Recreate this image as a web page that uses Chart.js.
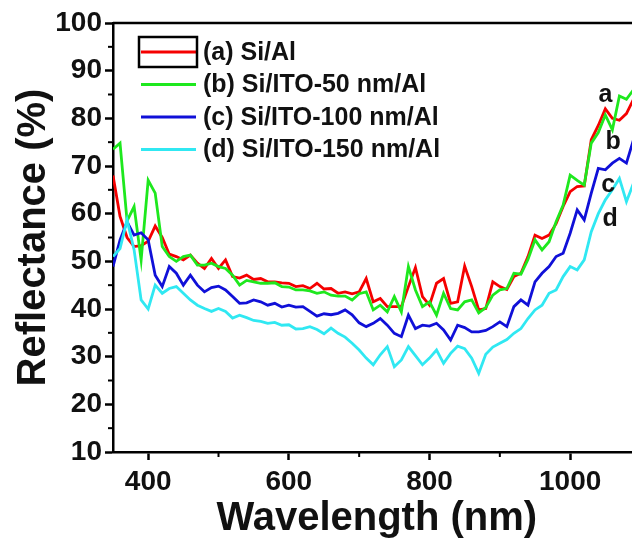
<!DOCTYPE html>
<html>
<head>
<meta charset="utf-8">
<script src="https://cdn.jsdelivr.net/npm/chart.js@4.4.1/dist/chart.umd.min.js"></script>
<style>
  html, body { margin: 0; padding: 0; background: #fff; overflow: hidden; }
  #wrap { width: 660px; height: 547px; }
</style>
</head>
<body>
<div id="wrap"><canvas id="myChart" width="660" height="547"></canvas></div>
<script>
// wavelengths (nm)
var wavelength = [350,360,370,380,390,400,410,420,430,440,450,460,470,480,490,500,510,520,530,540,
  550,560,570,580,590,600,610,620,630,640,650,660,670,680,690,700,710,720,730,740,
  750,760,770,780,790,800,810,820,830,840,850,860,870,880,890,900,910,920,930,940,
  950,960,970,980,990,1000,1010,1020,1030,1040,1050,1060,1070,1080,1090];

// reflectance (%)
var siAl = [68,59.4,55,53.1,53.3,54.2,57.4,55,51.5,51,50.3,51.3,49.6,48.5,50.6,48.5,50.3,46.8,46.5,47.1,
  46.2,46.4,45.7,45.7,45.5,45.4,44.7,44.9,44.3,45.4,44.2,44.3,43.3,43.6,43.2,43.6,46.4,41.5,42.2,40.5,
  40.5,40.5,44.7,48.7,42.6,40.8,45.4,46.4,41.2,41.5,49,44.7,39.8,40.1,45.7,44.7,44.1,46.8,47.5,51,
  55.5,54.8,55.5,57.9,61.5,64.6,65.7,65.8,75.5,78.5,82,80,79.6,81,84];
var ito50 = [73.5,74.8,58.5,61.5,50.3,67,64.3,53.1,51,50,51,51.3,49.2,49.2,49.6,48.9,48.5,47.1,45,46,
  45.7,45.4,45.4,45.5,44.7,44.6,44,44,43.8,43.3,43.6,42.9,42.7,42.7,41.9,43.2,43.6,39.8,40.8,39.4,
  42.6,39.4,48.9,44,40.5,41.5,38.7,43.3,40.1,39.8,41.5,41.9,39.2,40.3,42.9,44,44.3,47.5,47.3,50.4,
  54.5,52.4,54.1,58.3,61.8,68.1,67,66,74.8,77,80.7,77.6,84.7,84,86];
var ito100 = [48.9,54.5,58.3,55.5,56,54.5,47.1,44.7,48.9,47.5,45,47.1,45,43.6,44.5,44.8,44,42.6,41.2,41.3,
  41.9,41.5,40.8,41.2,40.4,40.8,40.4,40.5,39.5,38.5,39,38.8,39.1,39.8,38.8,37.1,36.3,37,38,36.6,
  34.9,34.2,38.7,35.9,36.6,36.4,37,35.6,33.5,36.6,36.1,35.2,35.2,35.5,36.3,37.3,36.3,40.5,41.9,40.8,
  45.7,47.5,48.9,51,51.7,55.9,60.8,58.7,64.3,69.5,69.2,70.6,71.6,70.6,75.5];
var ito150 = [51,52.7,58.7,52.4,41.9,40,45,43.3,44.3,44.7,43.3,41.9,40.8,40.1,39.5,40.1,39.5,38.1,38.7,38.2,
  37.6,37.4,37,37.2,36.6,36.7,35.8,35.9,36.3,35.7,34.8,36,34.9,34.1,32.8,31.4,29.7,28.3,30.4,32.1,
  27.9,29.3,32.1,30.2,28.3,29.7,31.4,28.6,30.7,32.2,31.7,29.7,26.5,30.5,32,32.8,33.6,34.9,35.9,38,
  39.8,40.8,43.3,44,46.8,48.9,48.2,50.3,56.2,60,62.9,65,67.4,62.5,66.4];

var seriesLabels = ['(a) Si/Al', '(b) Si/ITO-50 nm/Al', '(c) Si/ITO-100 nm/Al', '(d) Si/ITO-150 nm/Al'];
var seriesColors = ['#f50000', '#1ee81e', '#1010d8', '#30e8f2'];
var curveTags = ['a', 'b', 'c', 'd'];
var tagX = [1050, 1061, 1054, 1057];
var tagY = [84.9, 75, 66, 58.9];

var xTicks = [400, 600, 800, 1000];
var xMinor = [500, 700, 900];
var yTicks = [10, 20, 30, 40, 50, 60, 70, 80, 90, 100];
var yMinor = [15, 25, 35, 45, 55, 65, 75, 85, 95];

var FONT = '"Liberation Sans", Arial, sans-serif';

function pts(ys) {
  return wavelength.map(function (w, i) { return { x: w, y: ys[i] }; });
}

// extra drawing: top border, minor ticks, legend, curve letters
var extras = {
  id: 'extras',
  afterDraw: function (chart) {
    var ctx = chart.ctx;
    var ca = chart.chartArea;
    var xs = chart.scales.x, ys = chart.scales.y;
    ctx.save();
    ctx.strokeStyle = '#000';
    ctx.lineWidth = 2.5;
    // top frame line
    ctx.beginPath();
    ctx.moveTo(ca.left, ca.top);
    ctx.lineTo(ca.right, ca.top);
    ctx.stroke();
    // minor ticks
    ctx.lineWidth = 2;
    xMinor.forEach(function (v) {
      var px = xs.getPixelForValue(v);
      ctx.beginPath();
      ctx.moveTo(px, ca.bottom);
      ctx.lineTo(px, ca.bottom + 5);
      ctx.stroke();
    });
    yMinor.forEach(function (v) {
      var py = ys.getPixelForValue(v);
      ctx.beginPath();
      ctx.moveTo(ca.left, py);
      ctx.lineTo(ca.left - 5, py);
      ctx.stroke();
    });
    // legend, in series order
    ctx.font = 'bold 25px ' + FONT;
    ctx.textBaseline = 'middle';
    ctx.textAlign = 'left';
    seriesLabels.forEach(function (lab, i) {
      var y = 52 + i * 32.5;
      ctx.strokeStyle = seriesColors[i];
      ctx.lineWidth = 3;
      ctx.beginPath();
      ctx.moveTo(141, y);
      ctx.lineTo(196, y);
      ctx.stroke();
      ctx.fillStyle = '#111';
      ctx.fillText(lab, 203, y + 1);
    });
    ctx.strokeStyle = '#000';
    ctx.lineWidth = 2.5;
    ctx.strokeRect(139, 37, 58, 30);
    // curve letters
    ctx.textAlign = 'center';
    ctx.fillStyle = '#111';
    curveTags.forEach(function (t, i) {
      ctx.fillText(t, xs.getPixelForValue(tagX[i]), ys.getPixelForValue(tagY[i]));
    });
    ctx.restore();
  }
};

var ctx = document.getElementById('myChart').getContext('2d');
var chart = new Chart(ctx, {
  type: 'line',
  data: {
    datasets: [siAl, ito50, ito100, ito150].map(function (d, i) {
      return {
        label: seriesLabels[i],
        data: pts(d),
        borderColor: seriesColors[i],
        backgroundColor: seriesColors[i],
        borderWidth: 2.8,
        pointRadius: 0,
        tension: 0,
        fill: false,
        order: 4 - i
      };
    })
  },
  options: {
    responsive: false,
    animation: false,
    layout: { padding: { left: 0, top: 23, right: 19.5, bottom: 0 } },
    plugins: { legend: { display: false }, tooltip: { enabled: false } },
    scales: {
      x: {
        type: 'linear',
        min: 350,
        max: 1100,
        afterBuildTicks: function (s) { s.ticks = xTicks.map(function (v) { return { value: v }; }); },
        afterFit: function (s) { s.height = 95; },
        grid: { drawOnChartArea: false, drawTicks: true, tickLength: 8, tickWidth: 2.5, tickColor: '#000' },
        border: { display: true, color: '#000', width: 2.5 },
        ticks: {
          color: '#111', font: { family: FONT, size: 28, weight: 'bold' }, padding: 5, maxRotation: 0,
          callback: function (v) { return String(v); }
        },
        title: { display: true, text: 'Wavelength (nm)', color: '#111', font: { family: FONT, size: 40, weight: 'bold' }, padding: { top: 0, bottom: 4 } }
      },
      y: {
        min: 10,
        max: 100,
        afterBuildTicks: function (s) { s.ticks = yTicks.map(function (v) { return { value: v }; }); },
        afterFit: function (s) { s.width = 113; },
        grid: { drawOnChartArea: false, drawTicks: true, tickLength: 8, tickWidth: 2.5, tickColor: '#000' },
        border: { display: true, color: '#000', width: 2.5 },
        ticks: {
          color: '#111', font: { family: FONT, size: 28, weight: 'bold' }, padding: 3,
          callback: function (v) { return String(v); }
        },
        title: { display: true, text: 'Reflectance (%)', color: '#111', font: { family: FONT, size: 40, weight: 'bold' }, padding: { top: 10, bottom: 0 } }
      }
    }
  },
  plugins: [extras]
});
</script>
</body>
</html>
